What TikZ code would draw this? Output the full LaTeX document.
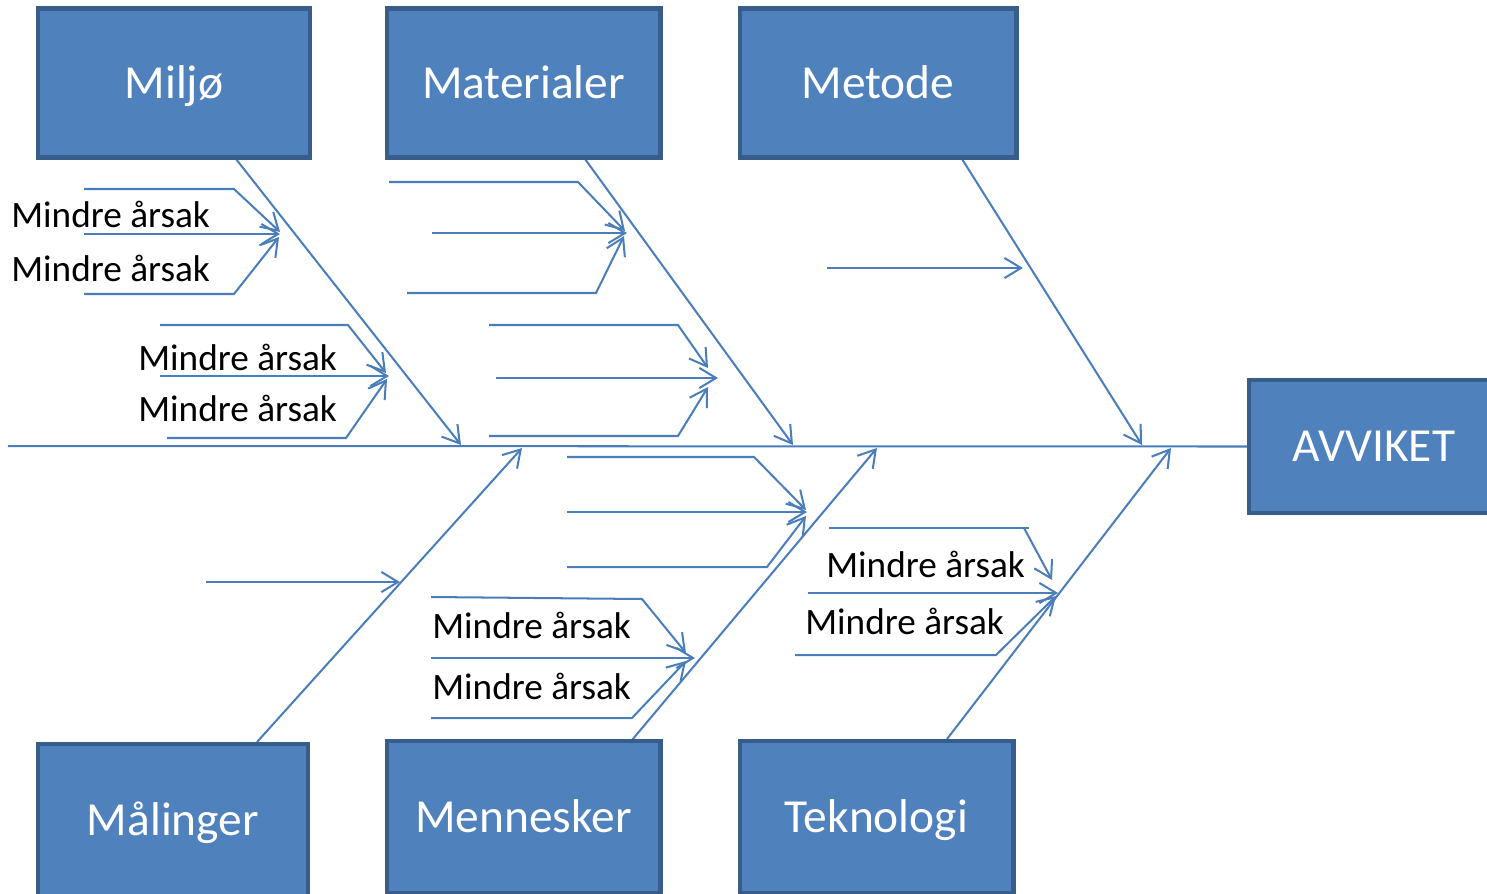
\documentclass[tikz,border=0pt]{standalone}
\usepackage{fontspec}
\setmainfont{Carlito}
\usetikzlibrary{arrows.meta}
\definecolor{ln}{HTML}{4A7EBB}
\definecolor{bfill}{HTML}{4F81BD}
\definecolor{bdraw}{HTML}{385D8A}
\begin{document}
\begin{tikzpicture}[x=0.02cm,y=-0.02cm,
  box/.style={draw=bdraw, line width=2.3pt, fill=bfill, text=white,
    font=\fontsize{27}{31}\selectfont, inner sep=0pt,
    text height=17.4pt, text depth=0pt},
  bone/.style={draw=ln, line width=1.15pt, -{Straight Barb[length=9.5pt,width=11.5pt]}},
  plainln/.style={draw=ln, line width=1.15pt},
  lbl/.style={anchor=base west, inner sep=0pt, font=\fontsize{21.2}{25}\selectfont}]
\clip (0,0) rectangle (1487,893);
\fill[white] (0,0) rectangle (1487,893);

% named points
\path
  (8,446) coordinate (spL)
  (236,159) coordinate (b1s) (461,445) coordinate (b1e)
  (585,159) coordinate (b2s) (793,445) coordinate (b2e)
  (962,159) coordinate (b3s) (1142,445) coordinate (b3e)
  (257,742) coordinate (b4s) (522,448) coordinate (b4e)
  (632,740) coordinate (b5s) (877,448) coordinate (b5e)
  (947,739) coordinate (b6s) (1171,448) coordinate (b6e);

% spine
\node[box, minimum width=5.0cm, minimum height=2.66cm] (avviket) at (1374,446.5) {AVVIKET};
\draw[plainln] (spL) -- (avviket.west);

% main bones
\draw[bone] (b1s) -- (b1e);
\draw[bone] (b2s) -- (b2e);
\draw[bone] (b3s) -- (b3e);
\draw[bone] (b4s) -- (b4e);
\draw[bone] (b5s) -- (b5e);
\draw[bone] (b6s) -- (b6e);

% Miljo group 1
\draw[bone] (84,189) coordinate (a1) -- (234,189) coordinate (a2) -- (280,232) coordinate (a3);
\draw[bone] (84,234) coordinate (a4) -- (280,234) coordinate (a5);
\draw[bone] (84,294) coordinate (a6) -- (234,294) coordinate (a7) -- (279,237) coordinate (a8);
% Miljo group 2
\draw[bone] (160,325) coordinate (c1) -- (348,325) coordinate (c2) -- (386,373) coordinate (c3);
\draw[bone] (160,376) coordinate (c4) -- (389,376) coordinate (c5);
\draw[bone] (167,438) coordinate (c6) -- (346,438) coordinate (c7) -- (387,379) coordinate (c8);
% Materialer group 1
\draw[bone] (389,182) coordinate (d1) -- (578,182) coordinate (d2) -- (625,231) coordinate (d3);
\draw[bone] (432,233) coordinate (d4) -- (627,233) coordinate (d5);
\draw[bone] (407,293) coordinate (d6) -- (596,293) coordinate (d7) -- (624,236) coordinate (d8);
% Materialer group 2
\draw[bone] (489,325) coordinate (e1) -- (678,325) coordinate (e2) -- (708,368) coordinate (e3);
\draw[bone] (496,378) coordinate (e4) -- (718,378) coordinate (e5);
\draw[bone] (489,436) coordinate (e6) -- (678,436) coordinate (e7) -- (708,387) coordinate (e8);
% Metode
\draw[bone] (827,268) coordinate (f1) -- (1023,268) coordinate (f2);
% Malinger
\draw[bone] (206,582) coordinate (g1) -- (400,582) coordinate (g2);
% Mennesker group 1
\draw[bone] (567,457) coordinate (h1) -- (754,457) coordinate (h2) -- (806,510) coordinate (h3);
\draw[bone] (567,512) coordinate (h4) -- (807,512) coordinate (h5);
\draw[bone] (567,567) coordinate (h6) -- (767,567) coordinate (h7) -- (806,516) coordinate (h8);
% Mennesker group 2
\draw[bone] (431,597) coordinate (i1) -- (642,599) coordinate (i2) -- (686,653) coordinate (i3);
\draw[bone] (431,658) coordinate (i4) -- (695,658) coordinate (i5);
\draw[bone] (431,718) coordinate (i6) -- (632,718) coordinate (i7) -- (686,661) coordinate (i8);
% Teknologi
\draw[plainln] (829,528) coordinate (j1) -- (1029,528) coordinate (j2);
\draw[bone] (1024,528) coordinate (j3) -- (1052,580) coordinate (j4);
\draw[bone] (808,593) coordinate (j5) -- (1058,593) coordinate (j6);
\draw[bone] (795,655) coordinate (j7) -- (996,655) coordinate (j8) -- (1056,596) coordinate (j9);

% labels
\node[lbl] (l1) at (11,227) {Mindre årsak};
\node[lbl] (l2) at (11,281) {Mindre årsak};
\node[lbl] (l3) at (138,370) {Mindre årsak};
\node[lbl] (l4) at (138,421) {Mindre årsak};
\node[lbl] (l5) at (432,638) {Mindre årsak};
\node[lbl] (l6) at (432,699) {Mindre årsak};
\node[lbl] (l7) at (826,577) {Mindre årsak};
\node[lbl] (l8) at (805,634) {Mindre årsak};

% boxes
\node[box, minimum width=5.46cm, minimum height=2.98cm] (miljo) at (174,83) {Miljø};
\node[box, minimum width=5.48cm, minimum height=2.98cm] (materialer) at (523.5,83) {Materialer};
\node[box, minimum width=5.54cm, minimum height=2.98cm] (metode) at (878,83) {Metode};
\node[box, minimum width=5.42cm, minimum height=3.06cm] (malinger) at (173,820) {Målinger};
\node[box, minimum width=5.48cm, minimum height=3.06cm] (mennesker) at (523.5,817) {Mennesker};
\node[box, minimum width=5.48cm, minimum height=3.06cm] (teknologi) at (876.5,817) {Teknologi};
\end{tikzpicture}
\end{document}
